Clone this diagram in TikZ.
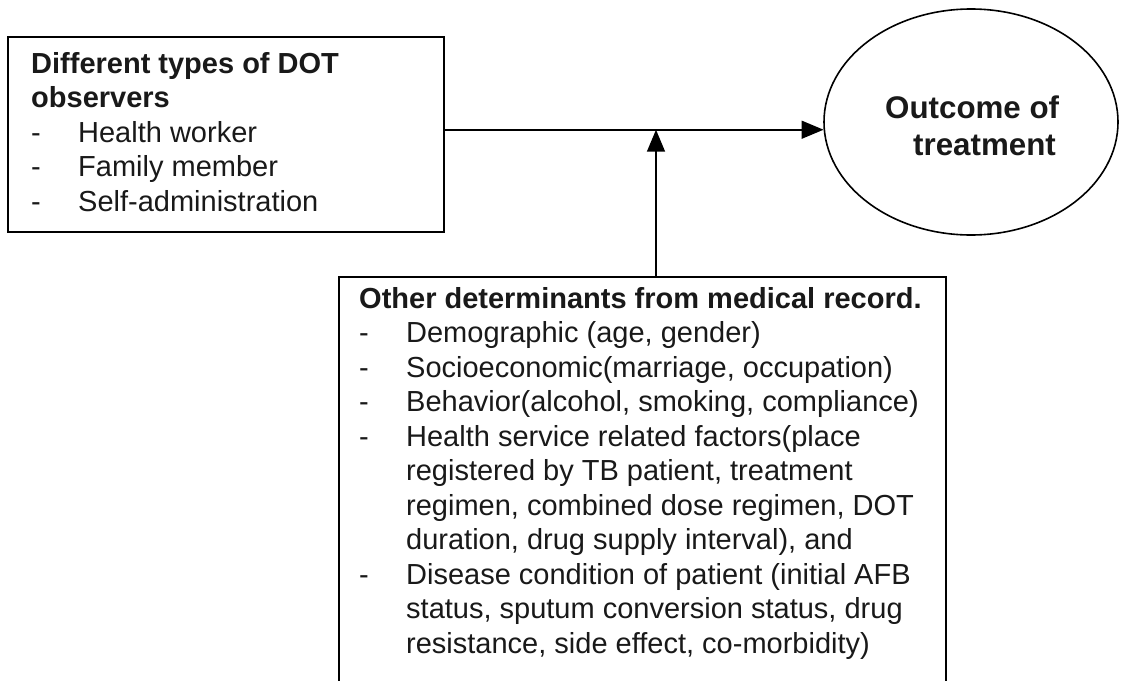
\documentclass[tikz,border=0pt]{standalone}
\usepackage{fontspec}
\setmainfont{Liberation Sans}
\usetikzlibrary{arrows.meta,shapes.geometric}
\begin{document}
\begin{tikzpicture}[x=1pt,y=-1pt,
  box/.style={draw, line width=1.6pt, rectangle, inner sep=0pt, anchor=north west},
  txt/.style={anchor=base west, inner sep=0pt, text=black!90, font=\fontsize{29}{34.5}\selectfont},
  etxt/.style={anchor=base west, inner sep=0pt, text=black!90, font=\fontsize{31.3}{37}\selectfont\bfseries},
  arr/.style={line width=1.6pt, -{Triangle[length=22pt,width=18pt]}}]
\useasboundingbox (0,0) rectangle (1121,680);
\fill[white] (0,0) rectangle (1121,680);
\clip (0,0) rectangle (1121,680);
% boxes
\node[box, minimum width=436pt, minimum height=195pt] (lbox) at (7,36) {};
\node[box, minimum width=607pt, minimum height=440pt] (bbox) at (338,276) {};
\node[draw, ellipse, line width=1.6pt, minimum width=294pt, minimum height=226pt, inner sep=0pt] (ell) at (971,122) {};
% texts
\node[txt] (ltxt) at (31,73) {\begin{tabular}[t]{@{}p{47pt}@{}l@{}}
\multicolumn{2}{@{}l@{}}{\bfseries Different types of DOT}\\
\multicolumn{2}{@{}l@{}}{\bfseries observers}\\
- & Health worker\\
- & Family member\\
- & Self-administration
\end{tabular}};
\node[etxt] (otxt) at (885,118) {\begin{tabular}[t]{@{}l@{}}Outcome of\\\hspace*{28pt}treatment\end{tabular}};
\node[txt] (btxt) at (359,308) {\begin{tabular}[t]{@{}p{47pt}@{}l@{}}
\multicolumn{2}{@{}l@{}}{\bfseries Other determinants from medical record.}\\
- & Demographic (age, gender)\\
- & Socioeconomic(marriage, occupation)\\
- & Behavior(alcohol, smoking, compliance)\\
- & Health service related factors(place\\
 & registered by TB patient, treatment\\
 & regimen, combined dose regimen, DOT\\
 & duration, drug supply interval), and\\
- & Disease condition of patient (initial AFB\\
 & status, sputum conversion status, drug\\
 & resistance, side effect, co-morbidity)
\end{tabular}};
% connectors
\coordinate (j) at (656,0);
\draw[arr] (lbox.east |- ell.183) -- (ell.183);
\draw[arr] (bbox.north -| j) -- (j |- ell.183);
\end{tikzpicture}
\end{document}
